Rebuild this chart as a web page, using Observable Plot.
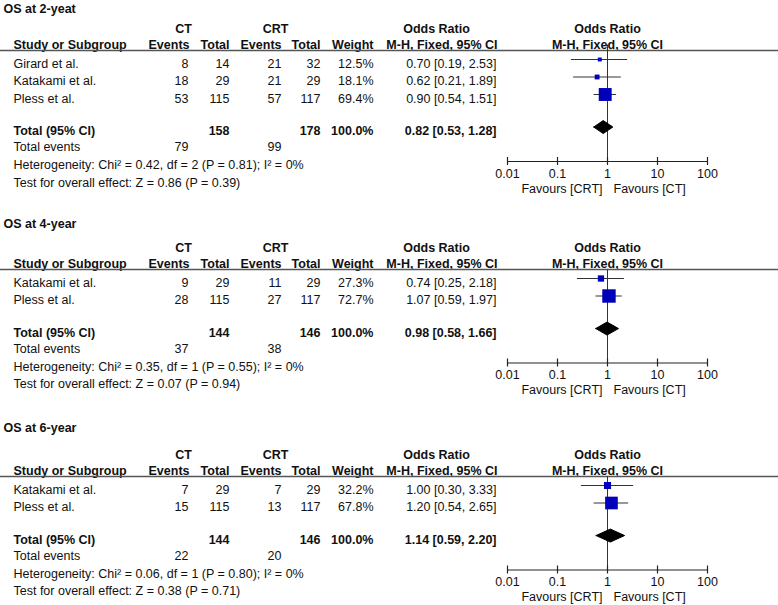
<!DOCTYPE html>
<html><head><meta charset="utf-8">
<script src="https://cdn.jsdelivr.net/npm/d3@7"></script>
<script src="https://cdn.jsdelivr.net/npm/@observablehq/plot@0.6"></script>
<style>
body{margin:0;background:#fff;}
#chart{position:relative;width:778px;height:605px;overflow:hidden;background:#fff;}
#chart svg{position:absolute;left:0;}
</style>
</head><body><div id="chart"></div>
<script>
// ---- data ----
const panelTitles = ["OS at 2-yeat", "OS at 4-year", "OS at 6-year"];
const studies = [["Girard et al.", "Katakami et al.", "Pless et al."], ["Katakami et al.", "Pless et al."], ["Katakami et al.", "Pless et al."]];
const ctEvents = [[8, 18, 53], [9, 28], [7, 15]];
const ctTotal = [[14, 29, 115], [29, 115], [29, 115]];
const crtEvents = [[21, 21, 57], [11, 27], [7, 13]];
const crtTotal = [[32, 29, 117], [29, 117], [29, 117]];
const weights = [[12.5, 18.1, 69.4], [27.3, 72.7], [32.2, 67.8]];
const oddsRatio = [[0.70, 0.62, 0.90], [0.74, 1.07], [1.00, 1.20]];
const ciLow = [[0.19, 0.21, 0.54], [0.25, 0.59], [0.30, 0.54]];
const ciHigh = [[2.53, 1.89, 1.51], [2.18, 1.97], [3.33, 2.65]];
const pooledOR = [0.82, 0.98, 1.14];
const pooledLow = [0.53, 0.58, 0.59];
const pooledHigh = [1.28, 1.66, 2.20];
const totalCT = [158, 144, 144];
const totalCRT = [178, 146, 146];
const eventsCT = [79, 37, 22];
const eventsCRT = [99, 38, 20];
const chi2 = [0.42, 0.35, 0.06];
const dfHet = [2, 1, 1];
const pHet = [0.81, 0.55, 0.80];
const iSquared = [0, 0, 0];
const zStat = [0.86, 0.07, 0.38];
const pZ = [0.39, 0.94, 0.71];
const tickValues = [0.01, 0.1, 1, 10, 100];
const tickLabels = ["0.01", "0.1", "1", "10", "100"];
const favourLabels = ["Favours [CRT]", "Favours [CT]"];

// ---- layout ----
const panelTop = [0, 212, 418];
const panelHeight = [212, 206, 187];
const firstRowY = [63, 70, 71];
const titleRow = [-3.13, -3.37, -3.5];
const step = 17.5;
const FS = 12.5;
const FONT = "'Liberation Sans', Arial, sans-serif";

function panel(p) {
  const n = studies[p].length;
  const H = panelHeight[p], r0 = firstRowY[p];
  const R = {title: titleRow[p], group: -2.0, header: -1.03, rule: -0.74,
             total: n + 0.86, events: n + 1.78, het: n + 2.82, test: n + 3.8, axis: n + 2.6};
  const vTop = p === 0 ? -1.05 : R.rule;
  const rows = studies[p].map((name, i) => ({
    name, i, ctE: ctEvents[p][i], ctT: ctTotal[p][i], crtE: crtEvents[p][i], crtT: crtTotal[p][i],
    w: weights[p][i], or: oddsRatio[p][i], lo: ciLow[p][i], hi: ciHigh[p][i]
  }));
  const T = (data, opts) => Plot.text(data, {frameAnchor: "left", fontSize: FS, fill: "#111", ...opts});
  const one = (s, y, dx, anchor, bold) => T([s], {y: () => y, text: d => d, dx, textAnchor: anchor, fontWeight: bold ? "bold" : "normal"});
  const col = (field, dx, fmt) => T(rows, {y: "i", text: d => fmt ? fmt(d[field]) : String(d[field]), dx, textAnchor: "end"});
  const h = 6.5 / step;
  const tot = R.total;
  const diamond = [
    {x: pooledLow[p], y: tot}, {x: pooledOR[p], y: tot - h}, {x: pooledHigh[p], y: tot},
    {x: pooledOR[p], y: tot + h}, {x: pooledLow[p], y: tot}
  ];
  return Plot.plot({
    width: 778, height: H, margin: 0,
    style: {fontFamily: FONT, fontSize: FS + "px", background: "white", color: "#111"},
    x: {type: "log", domain: [tickValues[0], tickValues[tickValues.length - 1]], range: [507, 707], axis: null},
    y: {type: "linear", domain: [-r0 / step, (H - r0) / step], range: [0, H], axis: null},
    r: {type: "linear", domain: [0, 100], range: [1.13, 10]},
    marks: [
      // title & headers
      one(panelTitles[p], R.title, 3, "start", true),
      one("CT", R.group, 183, "middle", true),
      one("CRT", R.group, 275, "middle", true),
      one("Odds Ratio", R.group, 436, "middle", true),
      one("Study or Subgroup", R.header, 13, "start", true),
      one("Events", R.header, 189, "end", true),
      one("Total", R.header, 229, "end", true),
      one("Events", R.header, 281, "end", true),
      one("Total", R.header, 320, "end", true),
      one("Weight", R.header, 373, "end", true),
      one("M-H, Fixed, 95% CI", R.header, 497, "end", true),
      Plot.text(["Odds Ratio"], {x: () => 1, y: () => R.group, text: d => d, fontWeight: "bold", fontSize: FS, fill: "#111"}),
      Plot.text(["M-H, Fixed, 95% CI"], {x: () => 1, y: () => R.header, text: d => d, fontWeight: "bold", fontSize: FS, fill: "#111"}),
      Plot.ruleY([R.rule], {stroke: "#555", strokeWidth: 1.5}),
      // study rows
      T(rows, {y: "i", text: "name", dx: 13, textAnchor: "start"}),
      col("ctE", 188), col("ctT", 229), col("crtE", 281), col("crtT", 320),
      col("w", 373, v => v.toFixed(1) + "%"),
      T(rows, {y: "i", text: d => `${d.or.toFixed(2)} [${d.lo.toFixed(2)}, ${d.hi.toFixed(2)}]`, dx: 496, textAnchor: "end"}),
      // totals
      one("Total (95% CI)", R.total, 13, "start", true),
      one(String(totalCT[p]), R.total, 229, "end", true),
      one(String(totalCRT[p]), R.total, 320, "end", true),
      one("100.0%", R.total, 373, "end", true),
      one(`${pooledOR[p].toFixed(2)} [${pooledLow[p].toFixed(2)}, ${pooledHigh[p].toFixed(2)}]`, R.total, 496, "end", true),
      one("Total events", R.events, 13, "start", false),
      one(String(eventsCT[p]), R.events, 188, "end", false),
      one(String(eventsCRT[p]), R.events, 281, "end", false),
      one(`Heterogeneity: Chi² = ${chi2[p].toFixed(2)}, df = ${dfHet[p]} (P = ${pHet[p].toFixed(2)}); I² = ${iSquared[p]}%`, R.het, 13, "start", false),
      one(`Test for overall effect: Z = ${zStat[p].toFixed(2)} (P = ${pZ[p].toFixed(2)})`, R.test, 13, "start", false),
      // forest plot
      Plot.ruleX([1], {y1: () => vTop, y2: () => R.axis, stroke: "#333", strokeWidth: 1}),
      Plot.ruleY(rows, {y: "i", x1: "lo", x2: "hi", dy: -4, stroke: "#333", strokeWidth: 1}),
      Plot.dot(rows, {x: "or", y: "i", r: "w", symbol: "square", fill: "#0000bb", dy: -4}),
      Plot.line(diamond, {x: "x", y: "y", fill: "#000", stroke: "#000", strokeWidth: 1, dy: -4}),
      Plot.ruleY([R.axis], {x1: () => tickValues[0], x2: () => tickValues[tickValues.length - 1], stroke: "#222", strokeWidth: 1.2}),
      Plot.ruleX(tickValues, {x: d => d, y1: () => R.axis - 4 / step, y2: () => R.axis + 4 / step, stroke: "#222", strokeWidth: 1.2}),
      Plot.text(tickValues, {x: d => d, y: () => R.axis, dy: 12, text: (d, i) => tickLabels[i], fontSize: FS, fill: "#111"}),
      Plot.text([favourLabels[0]], {x: () => 1, y: () => R.axis, dy: 27, dx: -5, textAnchor: "end", text: d => d, fontSize: FS, fill: "#111"}),
      Plot.text([favourLabels[1]], {x: () => 1, y: () => R.axis, dy: 27, dx: 6, textAnchor: "start", text: d => d, fontSize: FS, fill: "#111"})
    ]
  });
}

const chart = document.getElementById("chart");
panelTitles.forEach((_, p) => {
  const svg = panel(p);
  svg.style.top = panelTop[p] + "px";
  chart.appendChild(svg);
});
</script>
</body></html>
